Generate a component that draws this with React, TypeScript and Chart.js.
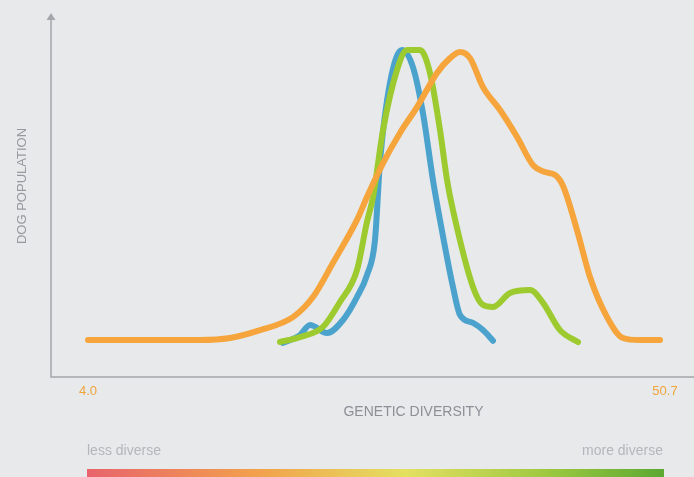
import React, { useEffect, useRef } from "react";
import { Chart, registerables } from "chart.js";

Chart.register(...registerables);

// Genetic diversity (x) vs relative dog population (y, peak = 100)
const orangeX = [4.0, 13.07, 15.49, 17.92, 20.59, 22.21, 23.83, 25.77, 26.58, 27.88, 29.25, 30.63, 32.25, 33.3, 34.11, 34.92, 35.97, 37.35, 38.73, 40.02, 40.99, 41.8, 42.45, 43.58, 44.63, 46.01, 47.3, 48.68, 50.3];
const orangeY = [0, 0, 0.7, 3.4, 7.9, 14.8, 26.6, 41.4, 49.3, 61.0, 71.4, 80.3, 92.1, 97.2, 99.3, 97.2, 87.2, 79.3, 70.0, 60.3, 57.9, 56.9, 53.1, 37.9, 21.7, 7.9, 0.7, 0, 0];

const greenX = [19.54, 21.16, 23.02, 24.39, 25.77, 26.58, 27.07, 27.88, 29.01, 29.82, 30.87, 31.68, 32.49, 33.06, 33.54, 35.16, 35.97, 36.78, 38.16, 39.78, 40.83, 42.2, 43.66];
const greenY = [-0.7, 1.0, 4.5, 13.1, 24.1, 40.7, 49.3, 72.4, 93.1, 100, 100, 92.1, 72.4, 55.2, 44.8, 18.3, 12.1, 11.4, 16.2, 17.2, 12.8, 3.4, -0.7];

const blueX = [19.78, 21.16, 21.97, 23.34, 24.64, 25.77, 26.58, 27.23, 27.63, 28.44, 29.41, 30.3, 31.11, 31.92, 32.49, 33.54, 34.11, 35.16, 36.13, 36.78];
const blueY = [-1.0, 1.7, 5.2, 2.4, 6.9, 14.8, 22.4, 34.5, 61.0, 88.6, 100, 94.1, 78.3, 55.2, 41.4, 18.3, 8.6, 5.9, 2.8, -0.3];

const xTicks = [4.0, 50.7];
const xTickLabels = ["4.0", "50.7"];
const xTitle = "GENETIC DIVERSITY";
const yTitle = "DOG POPULATION";
const scaleLabels = ["less diverse", "more diverse"];

const toPts = (xs: number[], ys: number[]) => xs.map((x, i) => ({ x, y: ys[i] }));

const BG = "#e7e9eb";
const AXIS = "#a3a7ab";
const FONT = "'Liberation Sans', Arial, sans-serif";

const decorPlugin = {
  id: "decor",
  beforeDraw(chart: any) {
    const { ctx, width, height } = chart;
    ctx.save();
    ctx.fillStyle = BG;
    ctx.fillRect(0, 0, width, height);
    ctx.restore();
  },
  afterDraw(chart: any) {
    const { ctx, chartArea } = chart;
    const xs = chart.scales.x;
    const { left, right, top, bottom } = chartArea;
    ctx.save();
    // axes
    ctx.strokeStyle = AXIS;
    ctx.lineWidth = 1.5;
    ctx.beginPath();
    ctx.moveTo(left, top);
    ctx.lineTo(left, bottom);
    ctx.lineTo(right, bottom);
    ctx.stroke();
    // arrow
    ctx.fillStyle = AXIS;
    ctx.beginPath();
    ctx.moveTo(left, top - 4);
    ctx.lineTo(left - 4.5, top + 3);
    ctx.lineTo(left + 4.5, top + 3);
    ctx.closePath();
    ctx.fill();
    // tick labels
    ctx.font = `13px ${FONT}`;
    ctx.fillStyle = "#f0a43c";
    ctx.textAlign = "center";
    ctx.textBaseline = "middle";
    xTicks.forEach((t, i) => {
      ctx.fillText(xTickLabels[i], xs.getPixelForValue(t), bottom + 14);
    });
    // x title
    ctx.font = `14px ${FONT}`;
    ctx.fillStyle = "#8c9095";
    const x0 = xs.getPixelForValue(xTicks[0]);
    const x1 = xs.getPixelForValue(xTicks[1]);
    ctx.fillText(xTitle, (x0 + x1) / 2 + 37, bottom + 35);
    // y title
    ctx.save();
    ctx.translate(left - 29, top + 169);
    ctx.rotate(-Math.PI / 2);
    ctx.font = `13px ${FONT}`;
    ctx.fillStyle = "#969a9f";
    ctx.fillText(yTitle, 0, 0);
    ctx.restore();
    // less / more diverse
    ctx.font = `14px ${FONT}`;
    ctx.fillStyle = "#b3b7bb";
    ctx.textAlign = "left";
    ctx.fillText(scaleLabels[0], x0 - 1, bottom + 74);
    ctx.textAlign = "right";
    ctx.fillText(scaleLabels[1], x1 - 2, bottom + 74);
    // gradient bar
    const g = ctx.createLinearGradient(x0, 0, x1, 0);
    g.addColorStop(0, "#e8646c");
    g.addColorStop(0.3, "#f2a24c");
    g.addColorStop(0.55, "#e4e060");
    g.addColorStop(0.8, "#9cc840");
    g.addColorStop(1, "#5aa832");
    ctx.fillStyle = g;
    ctx.fillRect(x0 - 1, bottom + 92, x1 - x0, 10);
    ctx.restore();
  },
};

export default function App() {
  const ref = useRef<HTMLCanvasElement | null>(null);
  useEffect(() => {
    document.body.style.margin = "0";
    document.body.style.background = BG;
    if (!ref.current) return;
    const ds = (data: any, color: string) => ({
      data,
      borderColor: color,
      borderWidth: 6,
      pointRadius: 0,
      fill: false,
      cubicInterpolationMode: "monotone" as const,
      borderCapStyle: "round" as const,
      borderJoinStyle: "round" as const,
    });
    const chart = new Chart(ref.current, {
      type: "line",
      data: {
        datasets: [
          ds(toPts(orangeX, orangeY), "#f5a53c"),
          ds(toPts(greenX, greenY), "#9dcb2f"),
          ds(toPts(blueX, blueY), "#4ba3cd"),
        ],
      },
      options: {
        animation: false,
        responsive: false,
        layout: { padding: { left: 51, right: 0, top: 17, bottom: 100 } },
        plugins: { legend: { display: false }, tooltip: { enabled: false } },
        scales: {
          x: { type: "linear", min: 1.005, max: 53.05, display: false },
          y: { min: -12.76, max: 111.38, display: false },
        },
      },
      plugins: [decorPlugin],
    });
    return () => chart.destroy();
  }, []);
  return <canvas ref={ref} width={694} height={477} style={{ display: "block" }} />;
}
